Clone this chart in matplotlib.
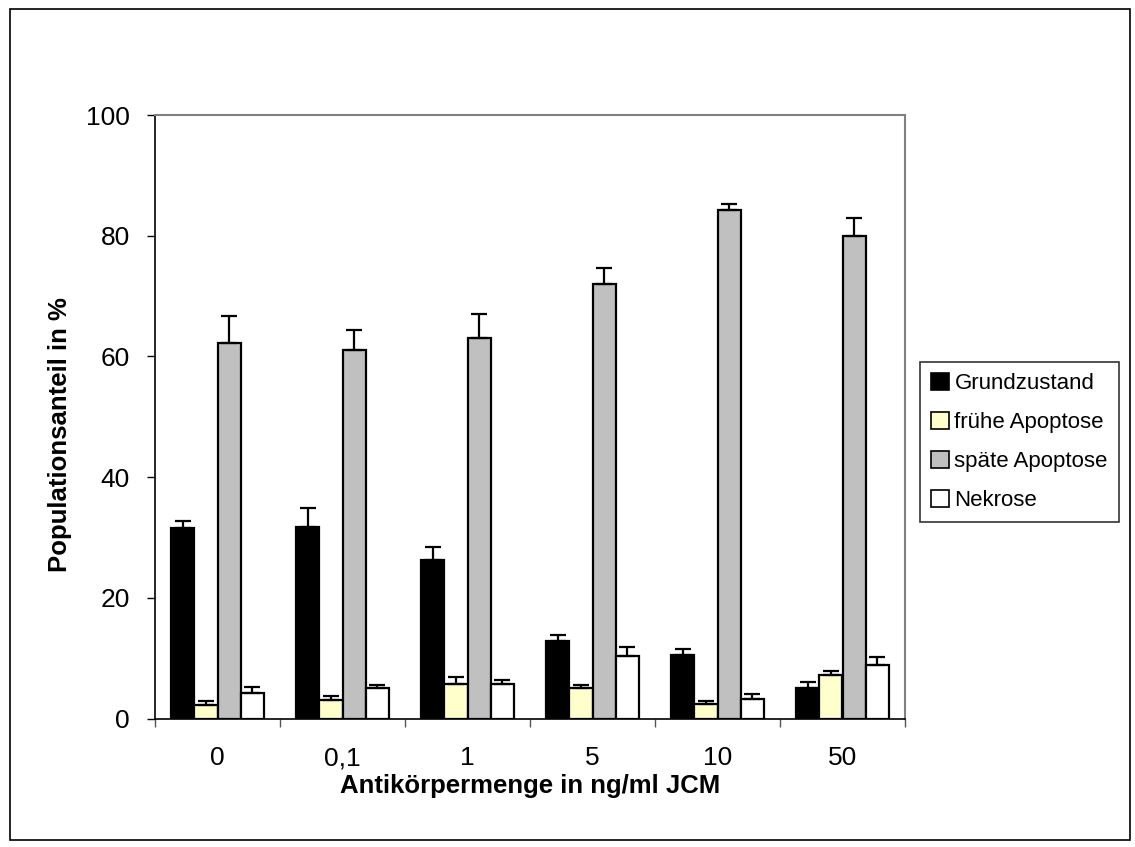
import matplotlib
matplotlib.use("Agg")
import matplotlib.pyplot as plt
from matplotlib.patches import Rectangle
import numpy as np

plt.rcParams['font.family'] = ['Liberation Sans', 'DejaVu Sans']

# Antikörpermenge in ng/ml JCM
doses = ['0', '0,1', '1', '5', '10', '50']
series = ['Grundzustand', 'frühe Apoptose', 'späte Apoptose', 'Nekrose']
colors = ['#000000', '#FFFFCC', '#C0C0C0', '#FFFFFF']

grundzustand = [31.5, 31.8, 26.2, 12.8, 10.5, 5.0]
fruehe_apoptose = [2.3, 3.0, 5.7, 5.1, 2.4, 7.2]
spaete_apoptose = [62.3, 61.0, 63.0, 72.0, 84.2, 80.0]
nekrose = [4.3, 5.0, 5.7, 10.4, 3.3, 8.8]

grundzustand_err = [1.3, 3.0, 2.3, 1.0, 1.0, 1.0]
fruehe_apoptose_err = [0.6, 0.7, 1.1, 0.4, 0.5, 0.6]
spaete_apoptose_err = [4.4, 3.3, 4.0, 2.6, 1.0, 3.0]
nekrose_err = [1.0, 0.6, 0.7, 1.4, 0.7, 1.4]

values = [grundzustand, fruehe_apoptose, spaete_apoptose, nekrose]
errors = [grundzustand_err, fruehe_apoptose_err, spaete_apoptose_err, nekrose_err]

W, H = 1135, 847
fig = plt.figure(figsize=(W / 100, H / 100), dpi=100)

# outer chart border
fig.patches.append(Rectangle((10 / W, 1 - 840 / H), 1120 / W, 831 / H,
                             transform=fig.transFigure, fill=False,
                             edgecolor='black', linewidth=1.2))

ax = fig.add_axes([155 / W, 1 - 718.5 / H, 750 / W, 603.5 / H])

x = np.arange(len(doses))
bar_w = 0.185
for i, (vals, errs) in enumerate(zip(values, errors)):
    pos = x + (i - 1.5) * bar_w
    ax.bar(pos, vals, width=bar_w, color=colors[i], edgecolor='black',
           linewidth=1.6, label=series[i], zorder=2)
    # only the upper half of the error bar is drawn
    ax.errorbar(pos, vals, yerr=[np.zeros(len(errs)), errs], fmt='none',
                ecolor='black', elinewidth=1.6, capsize=6, capthick=1.6,
                zorder=3)

ax.set_xlim(-0.5, len(doses) - 0.5)
ax.set_ylim(0, 100)
ax.set_yticks([0, 20, 40, 60, 80, 100])
ax.set_xticks(x)
ax.set_xticklabels(doses)
# category ticks sit between the groups
ax.set_xticks(np.arange(-0.5, len(doses) - 0.4, 1.0), minor=True)

ax.tick_params(axis='y', direction='out', length=6, width=1, pad=12,
               labelsize=19)
ax.tick_params(axis='x', which='major', length=0, pad=20, labelsize=19)
ax.tick_params(axis='x', which='minor', direction='out', length=6, width=1,
               color='#555555')

for side in ['top', 'right']:
    ax.spines[side].set_color('#808080')
    ax.spines[side].set_linewidth(1.5)
for side in ['left', 'bottom']:
    ax.spines[side].set_color('black')
    ax.spines[side].set_linewidth(1.2)

ax.set_ylabel('Populationsanteil in %', fontsize=18.5, fontweight='bold',
              labelpad=10, y=0.47)
ax.set_xlabel('Antikörpermenge in ng/ml JCM', fontsize=18.5,
              fontweight='bold', labelpad=3)

leg = fig.legend(loc='upper left', bbox_to_anchor=(920 / W, 1 - 362 / H),
                 fontsize=16, frameon=True, fancybox=False,
                 handlelength=0.8, handleheight=0.8, handletextpad=0.25,
                 labelspacing=0.8, borderpad=0.5, borderaxespad=0)
leg.get_frame().set_edgecolor('black')
leg.get_frame().set_linewidth(1.2)
for h in leg.legend_handles:
    h.set_linewidth(1.2)

fig.savefig("out.png", dpi=100)
